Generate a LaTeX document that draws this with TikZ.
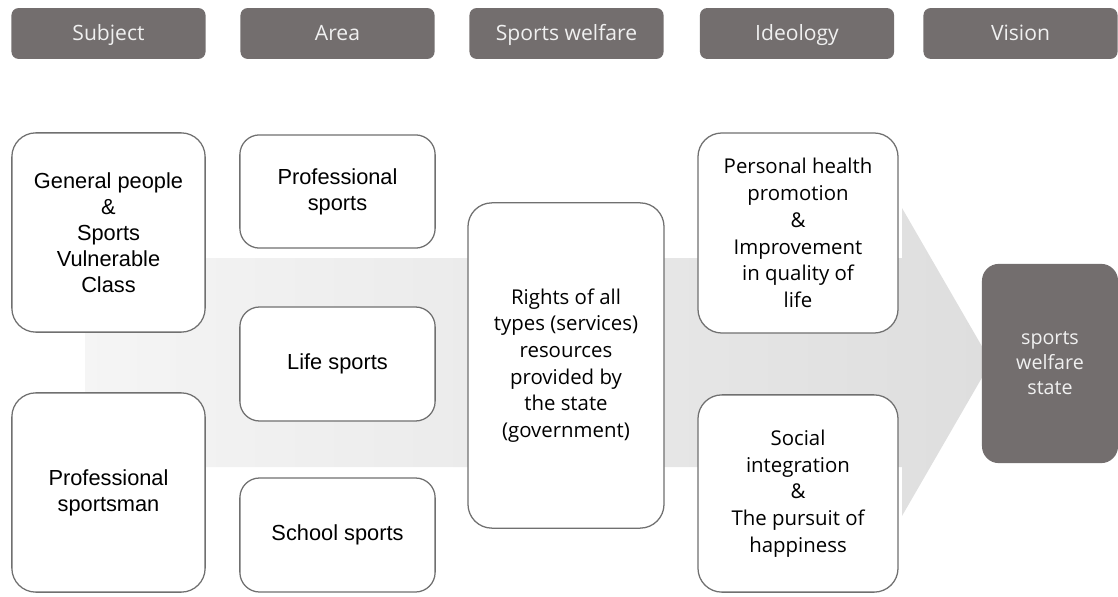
\documentclass[tikz,border=0pt]{standalone}
\usepackage{fontspec}
\setmainfont{Liberation Sans}
\newfontfamily\gothic{Open Sans}
\usepackage{xcolor}
\usepackage{tikz}
\usetikzlibrary{shapes.misc,backgrounds,calc}
\definecolor{headgray}{HTML}{736E6E}
\definecolor{boxgray}{HTML}{707070}
\tikzset{
    head/.style={fill=headgray, rounded corners=5pt, text=white!94!black,
        minimum width=4.85cm, minimum height=1.27cm, inner sep=0pt,
        text height=12pt, text depth=1.5pt,
        font=\gothic\fontsize{15}{18}\selectfont},
    itembox/.style={draw=boxgray, line width=0.9pt, fill=white, align=center,
        inner sep=0pt, rounded corners=17pt,
        font=\fontsize{15.5}{18.5}\selectfont},
    ideabox/.style={itembox, font=\gothic\fontsize{14.5}{19}\selectfont},
}

\begin{document}
\begin{tikzpicture}[x=0.025cm, y=-0.025cm]
        \useasboundingbox (0,0) rectangle (1118,597);

        % big arrow
        \shade[left color=gray!8, right color=gray!26]
            (85,258) -- (902,258) -- (902,208) -- (991,362) -- (902,516)
            -- (902,467) -- (85,467) -- cycle;

        % headers
        \node[head] (hsub) at (108.5,33.5) {Subject};
        \node[head] (hare) at (337.5,33.5) {Area};
        \node[head] (hwel) at (566.5,33.5) {Sports welfare};
        \node[head] (hide) at (797,33.5) {Ideology};
        \node[head] (hvis) at (1020.5,33.5) {Vision};

        % subject
        \node[itembox, minimum width=4.83cm, minimum height=4.98cm] (general) at (108.5,232.5)
            {General people\\\&\\Sports\\Vulnerable\\Class};
        \node[itembox, minimum width=4.83cm, minimum height=4.98cm] (pro) at (108.5,492.5)
            {Professional\\sportsman};

        % area
        \node[itembox, rounded corners=14pt, minimum width=4.88cm, minimum height=2.83cm] (prosport) at (337.5,191.5)
            {Professional\\sports};
        \node[itembox, rounded corners=14pt, minimum width=4.88cm, minimum height=2.85cm] (life) at (337.5,364)
            {Life sports};
        \node[itembox, rounded corners=14pt, minimum width=4.88cm, minimum height=2.85cm] (school) at (337.5,535)
            {School sports};

        % sports welfare
        \node[ideabox, minimum width=4.9cm, minimum height=8.13cm] (rights) at (566,365.5)
            {Rights of all\\types (services)\\resources\\provided by\\the state\\(government)};

        % ideology
        \node[ideabox, minimum width=5cm, minimum height=5cm] (health) at (798,233)
            {Personal health\\promotion\\\&\\Improvement\\in quality of\\life};
        \node[ideabox, minimum width=5cm, minimum height=4.93cm] (social) at (798,493.5)
            {Social\\integration\\\&\\The pursuit of\\happiness};

        % vision
        \node[ideabox, draw=none, fill=headgray, text=white!94!black, rounded corners=12pt,
            minimum width=3.4cm, minimum height=4.98cm,
            font=\gothic\fontsize{14}{17.8}\selectfont] (state) at (1050,363.5)
            {sports\\welfare\\state};

    \end{tikzpicture}
\end{document}
